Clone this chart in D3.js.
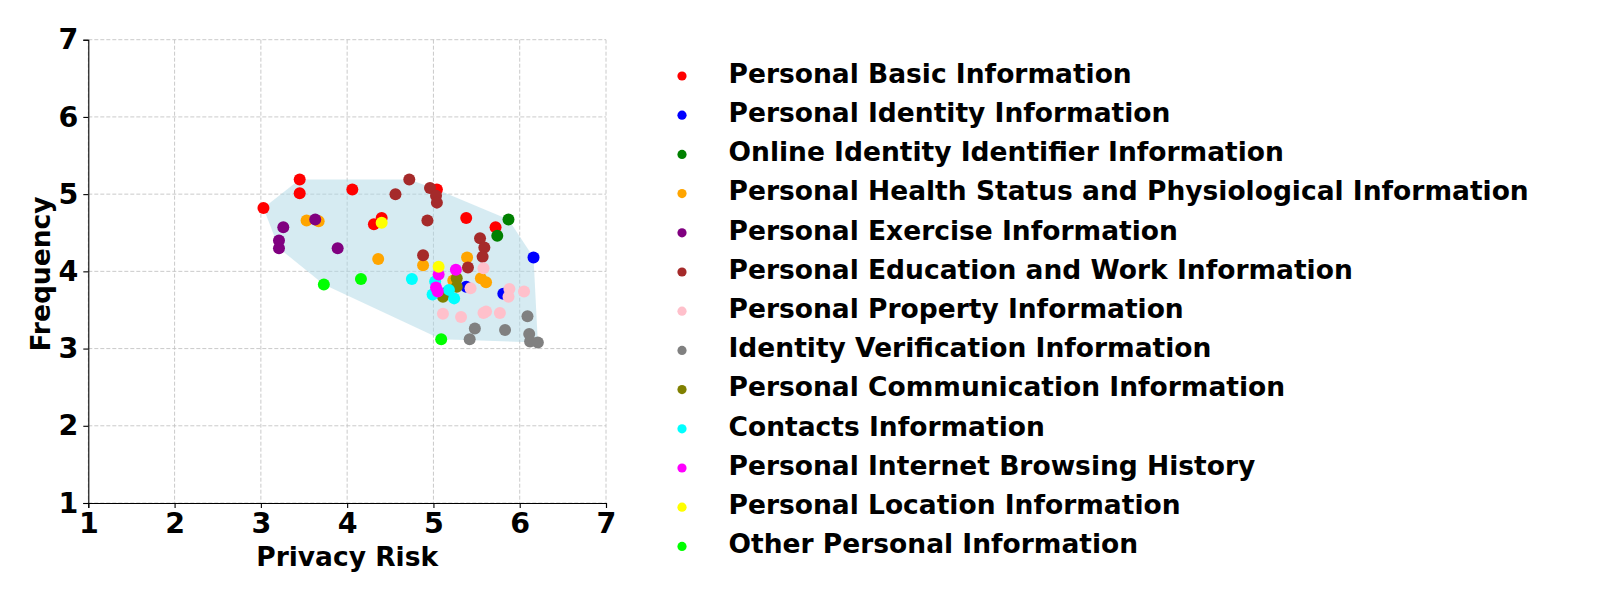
<!DOCTYPE html>
<html>
<head>
<meta charset="utf-8">
<script src="https://cdn.jsdelivr.net/npm/d3@7"></script>
<style>
  body { margin: 0; background: #fff; }
  text { font-family: "DejaVu Sans", sans-serif; font-weight: bold; }
  .axis path, .axis line { stroke: #000; }
</style>
</head>
<body>
<div class="svg-container"></div>
<script>
// categories in legend order, with their colours
let categories = [
  'Personal Basic Information',
  'Personal Identity Information',
  'Online Identity Identifier Information',
  'Personal Health Status and Physiological Information',
  'Personal Exercise Information',
  'Personal Education and Work Information',
  'Personal Property Information',
  'Identity Verification Information',
  'Personal Communication Information',
  'Contacts Information',
  'Personal Internet Browsing History',
  'Personal Location Information',
  'Other Personal Information'
]
let colors = ['red', 'blue', 'green', 'orange', 'purple', 'brown', 'pink',
  'gray', 'olive', 'cyan', 'magenta', 'yellow', 'lime']

// [privacy risk, frequency] per category
let basicInfo = [[3.03, 4.82], [3.45, 5.19], [3.45, 5.01], [4.06, 5.06], [4.31, 4.61],
  [4.40, 4.69], [5.04, 5.06], [5.38, 4.69], [5.72, 4.57]]
let identityInfo = [[6.16, 4.18], [5.38, 3.80], [5.81, 3.71], [5.16, 3.73]]
let onlineIdInfo = [[5.87, 4.67], [5.74, 4.46]]
let healthInfo = [[3.53, 4.66], [3.67, 4.65], [4.36, 4.16], [4.88, 4.08], [5.39, 4.18],
  [5.55, 3.91], [5.61, 3.86], [5.23, 3.88]]
let exerciseInfo = [[3.26, 4.57], [3.21, 4.40], [3.21, 4.30], [3.63, 4.67], [3.89, 4.30]]
let educationInfo = [[4.72, 5.19], [4.56, 5.00], [4.96, 5.08], [5.03, 4.98], [5.04, 4.89],
  [4.93, 4.66], [4.88, 4.21], [5.54, 4.43], [5.59, 4.31], [5.57, 4.19], [5.40, 4.05]]
let propertyInfo = [[5.58, 4.04], [5.43, 3.78], [5.88, 3.77], [6.05, 3.74], [5.87, 3.67],
  [5.11, 3.45], [5.32, 3.41], [5.58, 3.46], [5.61, 3.48], [5.77, 3.46]]
let verificationInfo = [[6.09, 3.42], [5.48, 3.26], [5.83, 3.24], [5.42, 3.12], [6.11, 3.19],
  [6.12, 3.09], [6.21, 3.08]]
let communicationInfo = [[5.27, 3.91], [5.27, 3.80], [5.11, 3.67]]
let contactsInfo = [[4.75, 3.90], [5.02, 3.87], [4.99, 3.70], [5.18, 3.76], [5.24, 3.65]]
let browsingInfo = [[5.26, 4.02], [5.06, 3.96], [5.03, 3.79], [5.05, 3.74]]
let locationInfo = [[4.40, 4.63], [5.06, 4.06]]
let otherInfo = [[3.73, 3.83], [4.16, 3.90], [5.09, 3.12]]

let seriesValues = [basicInfo, identityInfo, onlineIdInfo, healthInfo, exerciseInfo,
  educationInfo, propertyInfo, verificationInfo, communicationInfo, contactsInfo,
  browsingInfo, locationInfo, otherInfo]

let tickValues = [1, 2, 3, 4, 5, 6, 7]

function drawChart () {
  let width = 1600
  let height = 600
  let left = 88.3
  let right = 606
  let top = 39.7
  let bottom = 503
  let fontSize = 26.5
  let tickFontSize = 28.5

  let riskScale = d3.scaleLinear().domain([1, 7]).range([left, right])
  let freqScale = d3.scaleLinear().domain([1, 7]).range([bottom, top])

  let svg = d3.select('.svg-container')
    .append('svg')
    .attr('width', width)
    .attr('height', height)

  // dashed grid
  svg.append('g')
    .selectAll('line')
    .data(tickValues)
    .enter()
    .append('line')
    .attr('x1', d => riskScale(d))
    .attr('x2', d => riskScale(d))
    .attr('y1', top)
    .attr('y2', bottom)
    .attr('stroke', '#c4c4c4')
    .attr('stroke-width', 0.9)
    .attr('stroke-dasharray', '4,2')

  svg.append('g')
    .selectAll('line')
    .data(tickValues)
    .enter()
    .append('line')
    .attr('x1', left)
    .attr('x2', right)
    .attr('y1', d => freqScale(d))
    .attr('y2', d => freqScale(d))
    .attr('stroke', '#c4c4c4')
    .attr('stroke-width', 0.9)
    .attr('stroke-dasharray', '4,2')

  // convex hull of all points
  let allPoints = seriesValues.flat().map(p => [riskScale(p[0]), freqScale(p[1])])
  let hull = d3.polygonHull(allPoints)
  svg.append('path')
    .attr('d', 'M' + hull.join('L') + 'Z')
    .attr('fill', 'lightblue')
    .attr('fill-opacity', 0.5)
    .attr('stroke', 'none')

  // points, drawn category by category
  seriesValues.forEach((series, i) => {
    svg.append('g')
      .selectAll('circle')
      .data(series)
      .enter()
      .append('circle')
      .attr('cx', d => riskScale(d[0]))
      .attr('cy', d => freqScale(d[1]))
      .attr('r', 6)
      .attr('fill', colors[i])
  })

  let xAxis = d3.axisBottom(riskScale)
    .tickValues(tickValues)
    .tickFormat(d3.format('d'))
    .tickSizeOuter(0)
    .tickSize(5)
    .tickPadding(5)

  let yAxis = d3.axisLeft(freqScale)
    .tickValues(tickValues)
    .tickFormat(d3.format('d'))
    .tickSizeOuter(0)
    .tickSize(5)
    .tickPadding(5)

  svg.append('g')
    .attr('class', 'axis')
    .attr('transform', `translate(0, ${bottom})`)
    .call(xAxis)
    .attr('font-size', tickFontSize)
    .attr('font-family', '"DejaVu Sans", sans-serif')
    .attr('font-weight', 'bold')

  svg.append('g')
    .attr('class', 'axis')
    .attr('transform', `translate(${left}, 0)`)
    .call(yAxis)
    .attr('font-size', tickFontSize)
    .attr('font-family', '"DejaVu Sans", sans-serif')
    .attr('font-weight', 'bold')

  svg.selectAll('.axis text')
    .attr('fill', '#000')
    .style('font-size', tickFontSize + 'px')
  svg.selectAll('.axis path, .axis line')
    .attr('stroke-width', 1.1)

  svg.append('text')
    .attr('x', (left + right) / 2)
    .attr('y', 566)
    .attr('text-anchor', 'middle')
    .style('font-size', fontSize + 'px')
    .text('Privacy Risk')

  svg.append('text')
    .attr('transform', `translate(50, 274) rotate(-90)`)
    .attr('text-anchor', 'middle')
    .style('font-size', fontSize + 'px')
    .text('Frequency')

  // legend
  let legend = svg.append('g')
    .selectAll('g')
    .data(categories)
    .enter()
    .append('g')
    .attr('transform', (d, i) => `translate(682, ${76 + i * 39.2})`)

  legend.append('circle')
    .attr('r', 4.6)
    .attr('fill', (d, i) => colors[i])

  legend.append('text')
    .attr('x', 46.5)
    .attr('y', 6.8)
    .style('font-size', fontSize + 'px')
    .text(d => d)
}

drawChart()
</script>
</body>
</html>
